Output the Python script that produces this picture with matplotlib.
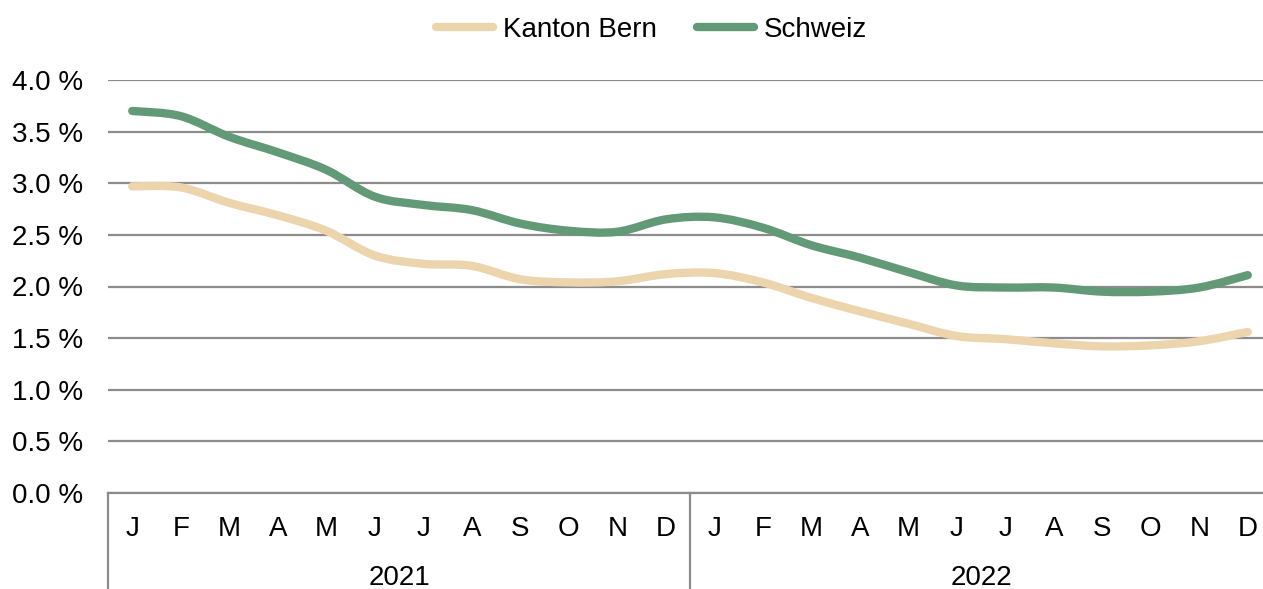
import matplotlib
matplotlib.use("Agg")
import matplotlib.pyplot as plt
import matplotlib.transforms as mtransforms
from matplotlib.path import Path
from matplotlib.patches import PathPatch
from matplotlib.lines import Line2D
import numpy as np

months = ["J", "F", "M", "A", "M", "J", "J", "A", "S", "O", "N", "D"] * 2
years = ["2021", "2022"]
bern = [2.97, 2.96, 2.81, 2.69, 2.54, 2.30, 2.22, 2.20, 2.07, 2.04, 2.05, 2.12,
        2.13, 2.04, 1.89, 1.76, 1.64, 1.52, 1.49, 1.45, 1.42, 1.43, 1.47, 1.56]
schweiz = [3.70, 3.65, 3.45, 3.30, 3.13, 2.87, 2.79, 2.74, 2.61, 2.54, 2.53, 2.65,
           2.67, 2.57, 2.40, 2.28, 2.14, 2.01, 1.99, 1.99, 1.95, 1.95, 1.99, 2.11]

c_bern = "#ecd4ac"
c_ch = "#629a77"
c_grid = "#8c8c8c"
fs = 20

plt.rcParams["font.family"] = ["Liberation Sans", "DejaVu Sans"]


def smooth_path(x, y):
    # Excel-artige geglaettete Linie als kubische Bezier-Kurve
    pts = np.column_stack([x, y]).astype(float)
    n = len(pts)
    verts = [pts[0]]
    codes = [Path.MOVETO]
    for i in range(n - 1):
        p0 = pts[i - 1] if i > 0 else pts[i]
        p1 = pts[i]
        p2 = pts[i + 1]
        p3 = pts[i + 2] if i + 2 < n else pts[i + 1]
        c1 = p1 + (p2 - p0) / 6
        c2 = p2 - (p3 - p1) / 6
        verts += [c1, c2, p2]
        codes += [Path.CURVE4] * 3
    return Path(verts, codes)


fig = plt.figure(figsize=(12.63, 5.89), dpi=100)
ax = fig.add_axes([108 / 1263, 96 / 589, 1164 / 1263, 413 / 589])

x = np.arange(len(months))
for vals, col in [(bern, c_bern), (schweiz, c_ch)]:
    patch = PathPatch(smooth_path(x, vals), facecolor="none", edgecolor=col,
                      lw=6, capstyle="round", joinstyle="round", zorder=3)
    ax.add_patch(patch)

ax.set_xlim(-0.5, len(months) - 0.5)
ax.set_ylim(0, 4.0)
ax.set_yticks(np.arange(0, 4.01, 0.5))
ax.set_yticklabels([f"{v:.1f} %" for v in np.arange(0, 4.01, 0.5)], fontsize=fs)
ax.tick_params(axis="y", length=0, pad=18)
ax.set_xticks([])
ax.grid(axis="y", color=c_grid, lw=1.6)
for s in ["top", "right", "left"]:
    ax.spines[s].set_visible(False)
ax.spines["bottom"].set_color(c_grid)
ax.spines["bottom"].set_linewidth(1.6)
ax.set_axisbelow(True)

trans = mtransforms.blended_transform_factory(ax.transData, ax.transAxes)
for xs in [-0.5, 11.5, 23.5]:
    ax.plot([xs, xs], [0, -0.235], color=c_grid, lw=1.6, transform=trans, clip_on=False)
for i, m in enumerate(months):
    ax.text(i, -0.087, m, transform=trans, ha="center", va="center", fontsize=fs)
for j, yr in enumerate(years):
    ax.text(5.5 + 12 * j, -0.205, yr, transform=trans, ha="center", va="center", fontsize=fs)

handles = [Line2D([], [], color=c_bern, lw=6, solid_capstyle="round"),
           Line2D([], [], color=c_ch, lw=6, solid_capstyle="round")]
fig.legend(handles, ["Kanton Bern", "Schweiz"], loc="center", bbox_to_anchor=(0.516, 0.949),
           ncol=2, frameon=False, fontsize=fs, handlelength=2.05, handletextpad=0.36,
           columnspacing=1.45)

fig.savefig("out.png", dpi=100)
